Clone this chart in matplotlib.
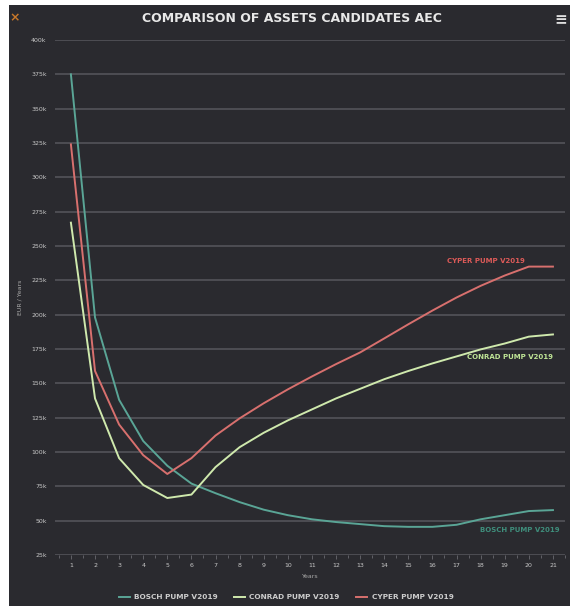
import matplotlib
matplotlib.use("Agg")
import matplotlib.pyplot as plt

years = list(range(1, 22))
bosch = [375, 198, 138, 108, 90, 77, 70, 63.5, 58, 54, 51, 49, 47.5, 46, 45.5, 45.5, 47, 51, 54, 57, 57.7]
conrad = [267, 139, 95.5, 76, 66.5, 69, 89, 103.5, 114, 123, 131, 139, 146, 153, 159, 164.5, 169.6, 174.7, 179, 184, 185.6]
cyper = [324, 159, 120, 97.7, 84, 95.5, 112, 124.5, 135.5, 145.6, 155, 164, 172.5, 182.7, 193, 203, 212.5, 221, 228.5, 235, 235]
series_names = ["BOSCH PUMP V2019", "CONRAD PUMP V2019", "CYPER PUMP V2019"]
y_ticks = [25, 50, 75, 100, 125, 150, 175, 200, 225, 250, 275, 300, 325, 350, 375, 400]
title = "COMPARISON OF ASSETS CANDIDATES AEC"

colors = ["#5aa596", "#cfe9ad", "#d8706e"]
label_colors = ["#3f8e7c", "#bfe596", "#dc5a58"]
bg = "#2a2a2f"

W, H = 570, 606
fig = plt.figure(figsize=(W / 100, H / 100), dpi=100)
fig.patch.set_facecolor("white")

bgax = fig.add_axes([9 / W, 0, 1 - 9 / W, 1 - 5 / H], zorder=-5)
bgax.set_facecolor(bg)
bgax.set_xticks([])
bgax.set_yticks([])
for s in bgax.spines.values():
    s.set_visible(False)

ax = fig.add_axes([55 / W, 1 - 555 / H, 510 / W, 515 / H], zorder=1)
ax.set_facecolor(bg)
for s in ax.spines.values():
    s.set_visible(False)

for name, vals, c in zip(series_names, [bosch, conrad, cyper], colors):
    ax.plot(years, vals, color=c, lw=1.4, label=name, zorder=3)

ax.set_xlim(0.34, 21.41)
ax.set_ylim(25, 400)
ax.set_yticks(y_ticks)
ax.set_yticklabels([f"{v}k" for v in y_ticks])
ax.set_xticks(years)
ax.set_xticklabels([str(y) for y in years])
ax.grid(axis="y", color="#4d4d53", lw=1.4, zorder=1)
ax.tick_params(axis="y", length=0, colors="#c8c8c8", labelsize=4.5, pad=6)
ax.tick_params(axis="x", length=3, width=0.6, color="#6a6a70", colors="#c8c8c8", labelsize=4.5, pad=3)
ax.set_xticks([x + 0.5 for x in range(0, 22)], minor=True)
ax.tick_params(axis="x", which="minor", length=2, color="#6a6a70")

ax.set_xlabel("Years", color="#aaaaaa", fontsize=4.5, labelpad=4)
ax.set_ylabel("EUR / Years", color="#aaaaaa", fontsize=4.5, labelpad=6)

# inline labels near series ends
ax.text(18.2, 239, series_names[2], color=label_colors[2], fontsize=5, fontweight="bold", ha="center", va="center")
ax.text(19.23, 169, series_names[1], color=label_colors[1], fontsize=5, fontweight="bold", ha="center", va="center")
ax.text(19.64, 43.2, series_names[0], color=label_colors[0], fontsize=5, fontweight="bold", ha="center", va="center")

fig.text(292 / W, 1 - 18 / H, title, color="#e8e8e8", fontsize=9, fontweight="bold", ha="center", va="center")
fig.text(15 / W, 1 - 18 / H, "×", color="#c8782a", fontsize=9, fontweight="bold", ha="center", va="center")
fig.text(561 / W, 1 - 20 / H, "≡", color="#e0e0e0", fontsize=11, fontweight="bold", ha="center", va="center")

leg = fig.legend(loc="center", bbox_to_anchor=(286 / W, 1 - 597 / H), ncol=3, frameon=False,
                 fontsize=5.3, handlelength=1.5, columnspacing=2.2, handletextpad=0.6)
for t in leg.get_texts():
    t.set_color("#cccccc")
    t.set_fontweight("bold")

fig.savefig("out.png", dpi=100, facecolor=fig.get_facecolor())
